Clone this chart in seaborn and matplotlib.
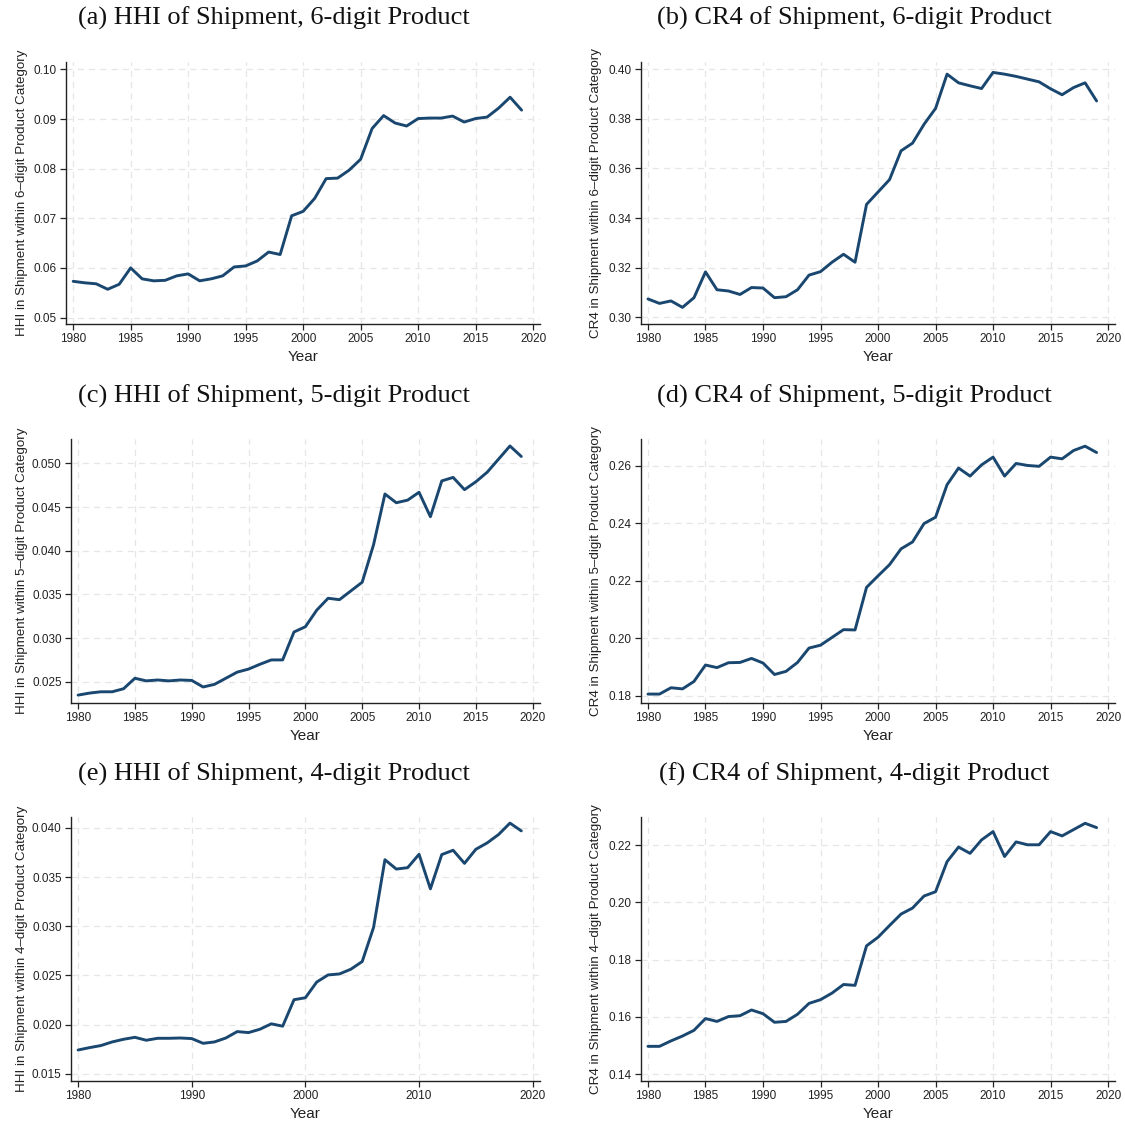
import matplotlib
matplotlib.use("Agg")
import matplotlib.pyplot as plt
import matplotlib.transforms as mtransforms
from matplotlib.ticker import FixedLocator, FormatStrFormatter
import pandas as pd
import seaborn as sns

# ---------------------------------------------------------------- data
years = list(range(1980, 2020))

hhi_6digit = [0.0573, 0.0570, 0.0568, 0.0557, 0.0567, 0.0600, 0.0578, 0.0574, 0.0575, 0.0584,
              0.0588, 0.0574, 0.0578, 0.0584, 0.0602, 0.0604, 0.0614, 0.0632, 0.0627, 0.0705,
              0.0714, 0.0740, 0.0780, 0.0781, 0.0797, 0.0819, 0.0881, 0.0907, 0.0892, 0.0886,
              0.0901, 0.0902, 0.0902, 0.0906, 0.0894, 0.0901, 0.0904, 0.0922, 0.0944, 0.0918]

cr4_6digit = [0.3074, 0.3056, 0.3066, 0.3040, 0.3079, 0.3183, 0.3111, 0.3106, 0.3092, 0.3120,
              0.3118, 0.3079, 0.3083, 0.3111, 0.3170, 0.3184, 0.3222, 0.3254, 0.3222, 0.3455,
              0.3505, 0.3555, 0.3671, 0.3702, 0.3778, 0.3842, 0.3980, 0.3945, 0.3933, 0.3922,
              0.3987, 0.3980, 0.3971, 0.3960, 0.3949, 0.3921, 0.3897, 0.3926, 0.3945, 0.3872]

hhi_5digit = [0.02347, 0.0237, 0.02385, 0.02385, 0.0242, 0.0254, 0.0251, 0.0252, 0.0251, 0.0252,
              0.02515, 0.0244, 0.0247, 0.0254, 0.0261, 0.02645, 0.0270, 0.0275, 0.0275, 0.0307,
              0.0313, 0.0332, 0.03456, 0.0344, 0.0354, 0.0364, 0.0407, 0.0465, 0.0455, 0.0458,
              0.0467, 0.0439, 0.0480, 0.0484, 0.0470, 0.0479, 0.0490, 0.0505, 0.0520, 0.0508]

cr4_5digit = [0.1806, 0.1806, 0.1828, 0.1824, 0.1850, 0.1907, 0.1898, 0.1915, 0.1916, 0.1930,
              0.1914, 0.1874, 0.1885, 0.1916, 0.1966, 0.1976, 0.2003, 0.2030, 0.2029, 0.2177,
              0.2217, 0.2256, 0.2311, 0.2335, 0.2399, 0.2421, 0.2534, 0.2592, 0.2564, 0.2603,
              0.2630, 0.2564, 0.2608, 0.2601, 0.2598, 0.2630, 0.2624, 0.2653, 0.2668, 0.2646]

hhi_4digit = [0.01742, 0.01766, 0.01787, 0.01824, 0.01851, 0.01871, 0.01841, 0.01861, 0.01861, 0.01864,
              0.01858, 0.0181, 0.01824, 0.01864, 0.01929, 0.01919, 0.01953, 0.02008, 0.01984, 0.02253,
              0.02273, 0.02433, 0.02505, 0.02515, 0.02563, 0.02641, 0.02988, 0.03676, 0.03581, 0.03595,
              0.03731, 0.0338, 0.03728, 0.03772, 0.03639, 0.03782, 0.03847, 0.03932, 0.04048, 0.03969]

cr4_4digit = [0.1497, 0.1497, 0.1516, 0.1533, 0.1553, 0.1594, 0.1584, 0.1601, 0.1604, 0.1624,
              0.1611, 0.1581, 0.1584, 0.1609, 0.1647, 0.1660, 0.1683, 0.1713, 0.1710, 0.1848,
              0.1878, 0.1919, 0.1959, 0.1980, 0.2022, 0.2037, 0.2142, 0.2193, 0.2171, 0.2218,
              0.2247, 0.2160, 0.2211, 0.2201, 0.2201, 0.2247, 0.2232, 0.2254, 0.2276, 0.2261]

titles = ["(a) HHI of Shipment, 6-digit Product", "(b) CR4 of Shipment, 6-digit Product",
          "(c) HHI of Shipment, 5-digit Product", "(d) CR4 of Shipment, 5-digit Product",
          "(e) HHI of Shipment, 4-digit Product", "(f) CR4 of Shipment, 4-digit Product"]

ylabels = ["HHI in Shipment within 6\u2013digit Product Category",
           "CR4 in Shipment within 6\u2013digit Product Category",
           "HHI in Shipment within 5\u2013digit Product Category",
           "CR4 in Shipment within 5\u2013digit Product Category",
           "HHI in Shipment within 4\u2013digit Product Category",
           "CR4 in Shipment within 4\u2013digit Product Category"]

yticks = [[0.05, 0.06, 0.07, 0.08, 0.09, 0.10],
          [0.30, 0.32, 0.34, 0.36, 0.38, 0.40],
          [0.025, 0.030, 0.035, 0.040, 0.045, 0.050],
          [0.18, 0.20, 0.22, 0.24, 0.26],
          [0.015, 0.020, 0.025, 0.030, 0.035, 0.040],
          [0.14, 0.16, 0.18, 0.20, 0.22]]
yfmt = ["%.2f", "%.2f", "%.3f", "%.2f", "%.3f", "%.2f"]
ylims = [(0.0487, 0.1015), (0.2973, 0.4029), (0.0226, 0.0528),
         (0.1776, 0.2693), (0.0143, 0.0411), (0.1377, 0.2298)]

xticks_5 = list(range(1980, 2021, 5))
xticks_10 = list(range(1980, 2021, 10))

series = [hhi_6digit, cr4_6digit, hhi_5digit, cr4_5digit, hhi_4digit, cr4_4digit]

# ---------------------------------------------------------------- style
sns.set_theme(style="ticks")
plt.rcParams["font.family"] = ["Liberation Sans Narrow", "Liberation Sans", "DejaVu Sans"]

W, H = 1125, 1124
fig = plt.figure(figsize=(W / 100, H / 100), dpi=100)

LINE = "#1a476f"
GRID = "#e6e6e6"

# panel boxes in pixels: (left, top, right, bottom)
boxes = [(65.7, 62, 540, 324), (640.5, 62, 1115, 324),
         (70.7, 439, 539.5, 702.7), (640.5, 439, 1115, 702.7),
         (70.7, 817, 539.5, 1080.7), (640.5, 817, 1115, 1080.7)]
title_y = [18, 18, 396, 396, 774, 774]
title_x = [274, 854]
ylabel_x = [28, 602]

for i in range(6):
    l, t, r, b = boxes[i]
    ax = fig.add_axes([l / W, (H - b) / H, (r - l) / W, (b - t) / H])
    df = pd.DataFrame({"Year": years, "value": series[i]})
    sns.lineplot(data=df, x="Year", y="value", ax=ax, color=LINE, linewidth=2.1)

    ax.set_xlim(1979.35, 2020.6)
    ax.set_ylim(*ylims[i])
    xt = xticks_10 if i == 4 else xticks_5
    ax.xaxis.set_major_locator(FixedLocator(xt))
    ax.yaxis.set_major_locator(FixedLocator(yticks[i]))
    ax.yaxis.set_major_formatter(FormatStrFormatter(yfmt[i]))

    ax.grid(True, color=GRID, linestyle=(0, (5, 4)), linewidth=0.9)
    ax.set_axisbelow(True)
    for side in ("top", "right"):
        ax.spines[side].set_visible(False)
    for side in ("left", "bottom"):
        ax.spines[side].set_color("#222222")
        ax.spines[side].set_linewidth(1.0)
    ax.tick_params(axis="both", direction="out", length=4, width=0.9,
                   color="#222222", labelsize=8.5, labelcolor="#222222", pad=2.5)

    ax.set_xlabel("Year", fontsize=11, color="#222222")
    ax.set_ylabel(ylabels[i], fontsize=9.6, color="#222222")
    ax.xaxis.set_label_coords(0.5, -26 / (b - t))
    ax.yaxis.set_label_coords(ylabel_x[i % 2] / W, 0.5,
                              transform=mtransforms.blended_transform_factory(fig.transFigure, ax.transAxes))

    fig.text(title_x[i % 2] / W, 1 - title_y[i] / H, titles[i],
             ha="center", va="center", fontsize=19, color="#111111",
             family=["Liberation Serif", "DejaVu Serif"])

fig.savefig("out.png", dpi=100, facecolor="white")
